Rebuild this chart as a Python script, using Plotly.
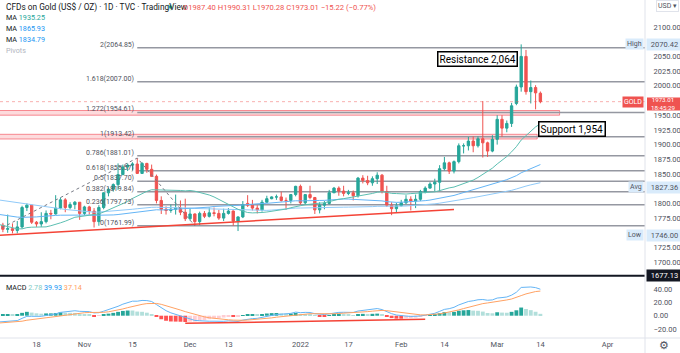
import pandas as pd
import plotly.graph_objects as go

# ---------------- data ----------------
dates = [
    "2021-10-06", "2021-10-07", "2021-10-08",
    "2021-10-11", "2021-10-12", "2021-10-13", "2021-10-14", "2021-10-15",
    "2021-10-18", "2021-10-19", "2021-10-20", "2021-10-21", "2021-10-22",
    "2021-10-25", "2021-10-26", "2021-10-27", "2021-10-28", "2021-10-29",
    "2021-11-01", "2021-11-02", "2021-11-03", "2021-11-04", "2021-11-05",
    "2021-11-08", "2021-11-09", "2021-11-10", "2021-11-11", "2021-11-12",
    "2021-11-15", "2021-11-16", "2021-11-17", "2021-11-18", "2021-11-19",
    "2021-11-22", "2021-11-23", "2021-11-24", "2021-11-25", "2021-11-26",
    "2021-11-29", "2021-11-30",
    "2021-12-01", "2021-12-02", "2021-12-03",
    "2021-12-06", "2021-12-07", "2021-12-08", "2021-12-09", "2021-12-10",
    "2021-12-13", "2021-12-14", "2021-12-15", "2021-12-16", "2021-12-17",
    "2021-12-20", "2021-12-21", "2021-12-22", "2021-12-23", "2021-12-24",
    "2021-12-27", "2021-12-28", "2021-12-29", "2021-12-30", "2021-12-31",
    "2022-01-03", "2022-01-04", "2022-01-05", "2022-01-06", "2022-01-07",
    "2022-01-10", "2022-01-11", "2022-01-12", "2022-01-13", "2022-01-14",
    "2022-01-17", "2022-01-18", "2022-01-19", "2022-01-20", "2022-01-21",
    "2022-01-24", "2022-01-25", "2022-01-26", "2022-01-27", "2022-01-28",
    "2022-01-31",
    "2022-02-01", "2022-02-02", "2022-02-03", "2022-02-04",
    "2022-02-07", "2022-02-08", "2022-02-09", "2022-02-10", "2022-02-11",
    "2022-02-14", "2022-02-15", "2022-02-16", "2022-02-17", "2022-02-18",
    "2022-02-21", "2022-02-22", "2022-02-23", "2022-02-24", "2022-02-25",
    "2022-02-28",
    "2022-03-01", "2022-03-02", "2022-03-03", "2022-03-04",
    "2022-03-07", "2022-03-08", "2022-03-09", "2022-03-10", "2022-03-11",
    "2022-03-14",
]

opens = [
    1760, 1763, 1756, 1757, 1754, 1760, 1793, 1797, 1768, 1765, 1769, 1783, 1782,
    1792, 1806, 1793, 1798, 1802,
    1783, 1794, 1787, 1769, 1793, 1818, 1824, 1832, 1849, 1862, 1865, 1867, 1851,
    1868, 1858, 1846, 1805, 1790, 1788, 1790, 1792, 1785,
    1774, 1782, 1769, 1783, 1778, 1784, 1783, 1775, 1783, 1787, 1770, 1777, 1800,
    1797, 1792, 1789, 1802, 1808, 1811, 1811, 1805, 1805, 1815,
    1829, 1801, 1815, 1810, 1789, 1797, 1800, 1818, 1826, 1821, 1817, 1818, 1813,
    1843, 1839, 1835, 1842, 1848, 1820, 1797, 1791,
    1796, 1801, 1807, 1804, 1807, 1820, 1826, 1833, 1836, 1859, 1869, 1855, 1871,
    1898, 1898, 1906, 1898, 1910, 1903, 1889,
    1909, 1943, 1928, 1936, 1970, 1998, 2050, 1990, 1997, 1987.40,
]
highs = [
    1765, 1767, 1781, 1766, 1770, 1796, 1800, 1797, 1770, 1785, 1788, 1789, 1814,
    1810, 1809, 1802, 1804, 1802,
    1796, 1796, 1792, 1797, 1819, 1827, 1834, 1868, 1866, 1868, 1870, 1877.2, 1870,
    1869, 1866, 1849, 1812, 1795, 1798, 1815, 1805, 1808,
    1792, 1783, 1786, 1787, 1793, 1793, 1789, 1791, 1792, 1788, 1778, 1804, 1814,
    1806, 1797, 1806, 1813, 1812, 1815, 1820, 1810, 1816, 1830,
    1832, 1815, 1830, 1811, 1802, 1804, 1823, 1828, 1829, 1830, 1823, 1822, 1845,
    1848, 1847, 1846, 1853, 1850, 1830, 1802, 1801,
    1806, 1814, 1812, 1815, 1823, 1829, 1836, 1842, 1865, 1879, 1871, 1873, 1902,
    1902, 1913, 1914, 1914, 1974, 1905, 1916,
    1950, 1950, 1941, 1971, 2002, 2070.42, 2061, 2009, 2001, 1990.31,
]
lows = [
    1746, 1751, 1750, 1749, 1749, 1757, 1787, 1765, 1760, 1760, 1766, 1773, 1781,
    1790, 1785, 1790, 1790, 1772,
    1780, 1781, 1759, 1762, 1790, 1812, 1820, 1823, 1848, 1855, 1856, 1850, 1850,
    1852, 1845, 1800, 1782, 1781, 1784, 1781, 1780, 1770,
    1771, 1761.99, 1763, 1775, 1776, 1778, 1772, 1770, 1781, 1762, 1753, 1775, 1794,
    1788, 1783, 1786, 1801, 1807, 1806, 1803, 1789, 1800, 1812,
    1798, 1798, 1807, 1782, 1783, 1790, 1798, 1818, 1813, 1812, 1814, 1805, 1810,
    1834, 1831, 1830, 1833, 1817, 1794, 1780, 1785,
    1795, 1799, 1788, 1792, 1804, 1817, 1825, 1821, 1821, 1856, 1850, 1851, 1868,
    1885, 1890, 1887, 1895, 1878, 1879, 1887,
    1900, 1913, 1921, 1930, 1967, 1990, 1985, 1970, 1960, 1970.28,
]
closes = [
    1763, 1756, 1757, 1754, 1760, 1793, 1797, 1768, 1765, 1769, 1783, 1782, 1792,
    1806, 1793, 1798, 1802, 1783,
    1794, 1787, 1769, 1793, 1818, 1824, 1832, 1849, 1862, 1865, 1867, 1851, 1868,
    1858, 1846, 1805, 1790, 1788, 1790, 1792, 1785, 1774,
    1782, 1769, 1783, 1778, 1784, 1783, 1775, 1783, 1787, 1770, 1777, 1798, 1797,
    1792, 1789, 1802, 1808, 1811, 1811, 1805, 1805, 1815, 1829,
    1801, 1815, 1810, 1789, 1797, 1800, 1818, 1826, 1821, 1817, 1818, 1813, 1843,
    1839, 1835, 1842, 1848, 1820, 1797, 1791, 1796,
    1801, 1807, 1804, 1807, 1820, 1826, 1833, 1836, 1859, 1869, 1855, 1871, 1898,
    1898, 1906, 1898, 1910, 1903, 1889, 1909,
    1943, 1928, 1936, 1966, 1998, 2050, 1990, 1997, 1988, 1973.01,
]

# daily closes before the visible window (May 17 - Oct 5, 2021), used to seed MAs / MACD
prior_closes = [
    1867, 1869, 1881, 1876, 1881, 1881, 1899, 1896, 1896, 1903,
    1905, 1903, 1908, 1871, 1891, 1899, 1893, 1888, 1898, 1877,
    1866, 1858, 1813, 1774, 1764, 1782, 1779, 1778, 1776, 1781,
    1779, 1761, 1770, 1777, 1787, 1792, 1796, 1803, 1803, 1808,
    1806, 1808, 1824, 1829, 1812, 1812, 1810, 1804, 1806, 1802,
    1797, 1799, 1807, 1829, 1814, 1813, 1810, 1813, 1804, 1763,
    1729, 1732, 1734, 1753, 1779, 1787, 1786, 1787, 1782, 1781,
    1805, 1804, 1790, 1793, 1818, 1810, 1814, 1815, 1810, 1827,
    1823, 1794, 1788, 1795, 1788, 1793, 1804, 1794, 1754, 1754,
    1764, 1774, 1768, 1743, 1750, 1750, 1737, 1725, 1742, 1761,
    1769, 1760,
]

fib_ratios = ["0", "0.236", "0.382", "0.5", "0.618", "0.786", "1", "1.272", "1.618", "2"]
fib_prices = [1761.99, 1797.73, 1819.84, 1837.70, 1855.57, 1881.01, 1913.42, 1954.61, 2007.00, 2064.85]
fib_swing_dates = ["2021-09-29", "2021-11-16", "2021-12-02"]
fib_swing_prices = [1725.8, 1877.2, 1761.99]

trend_dates = ["2021-10-06", "2022-02-16"]
trend_prices = [1745.8, 1789.5]
macd_trend_dates = ["2021-11-30", "2022-02-08"]
macd_trend_vals = [-11.4, -5.4]

price_ticks = [2100, 2050, 2025, 2000, 1950, 1925, 1900, 1875, 1850, 1800, 1775, 1725, 1700]
macd_ticks = [40, 20, 0, -20]
x_tick_dates = ["2021-10-18", "2021-11-01", "2021-11-15", "2021-12-01", "2021-12-13", "2022-01-03",
                "2022-01-17", "2022-02-01", "2022-02-14", "2022-03-01", "2022-03-14", "2022-04-01"]
x_tick_text = ["18", "Nov", "15", "Dec", "13", "2022", "17", "Feb", "14", "Mar", "14", "Apr"]

last_price = 1973.01
high_price, avg_price, low_price, hline_price = 2070.42, 1827.36, 1746.00, 1677.13

# ---------------- indicators ----------------
n_prior = len(prior_closes)
s = pd.Series(prior_closes + closes, dtype=float)
ma20 = s.rolling(20).mean().iloc[n_prior:].tolist()
ma50 = s.rolling(50).mean().iloc[n_prior:].tolist()
ma100 = s.rolling(100).mean().iloc[n_prior:].tolist()
ema12 = s.ewm(span=12, adjust=False).mean()
ema26 = s.ewm(span=26, adjust=False).mean()
macd_all = ema12 - ema26
sig_all = macd_all.ewm(span=9, adjust=False).mean()
hist_all = macd_all - sig_all
macd = macd_all.iloc[n_prior:].tolist()
sig = sig_all.iloc[n_prior:].tolist()
hist = hist_all.iloc[n_prior:].tolist()
prev = hist_all.iloc[n_prior - 1:-1].tolist()
hist_colors = []
for h, p in zip(hist, prev):
    if h >= 0:
        hist_colors.append("#26a69a" if h > p else "#b2dfdb")
    else:
        hist_colors.append("#ffcdd2" if h > p else "#ff5252")

# ---------------- geometry ----------------
W, H = 680, 353
PR, PB = 645, 338  # plot right / bottom in px
Y_TOP, Y_BOT = 2145.92, 1673.13   # price pane range (px 0 .. 278)


def fx(px):
    return px / PR


def fy(py):
    return (PB - py) / PB


def price_at(py):
    return Y_TOP - py * (Y_TOP - Y_BOT) / 278.0


X_RANGE = ["2021-10-06 09:36:00", "2022-04-12 19:12:00"]
FONT = "Roboto, Liberation Sans, sans-serif"
UP, DN = "#26a69a", "#ef5350"

fig = go.Figure()

fig.add_trace(go.Candlestick(
    x=dates, open=opens, high=highs, low=lows, close=closes,
    increasing=dict(line=dict(color=UP, width=1), fillcolor=UP),
    decreasing=dict(line=dict(color=DN, width=1), fillcolor=DN),
    whiskerwidth=0, xaxis="x", yaxis="y", hoverinfo="skip", name="GOLD"))

fig.add_trace(go.Scatter(x=dates, y=ma100, mode="lines", line=dict(color="#90caf9", width=1),
                         xaxis="x", yaxis="y", hoverinfo="skip"))
fig.add_trace(go.Scatter(x=dates, y=ma50, mode="lines", line=dict(color="#64b5f6", width=1),
                         xaxis="x", yaxis="y", hoverinfo="skip"))
fig.add_trace(go.Scatter(x=dates, y=ma20, mode="lines", line=dict(color="#5cbfb2", width=1),
                         xaxis="x", yaxis="y", hoverinfo="skip"))

fig.add_trace(go.Scatter(x=fib_swing_dates, y=fib_swing_prices, mode="lines",
                         line=dict(color="#787b86", width=1, dash="3px,3px"),
                         xaxis="x", yaxis="y", hoverinfo="skip"))
fig.add_trace(go.Scatter(x=trend_dates, y=trend_prices, mode="lines",
                         line=dict(color="#f44336", width=1.5),
                         xaxis="x", yaxis="y", hoverinfo="skip"))

fig.add_trace(go.Bar(x=dates, y=hist, marker=dict(color=hist_colors, line=dict(width=0)),
                     xaxis="x2", yaxis="y2", hoverinfo="skip"))
fig.add_trace(go.Scatter(x=dates, y=macd, mode="lines", line=dict(color="#64b5f6", width=1),
                         xaxis="x2", yaxis="y2", hoverinfo="skip"))
fig.add_trace(go.Scatter(x=dates, y=sig, mode="lines", line=dict(color="#ffa264", width=1),
                         xaxis="x2", yaxis="y2", hoverinfo="skip"))
fig.add_trace(go.Scatter(x=macd_trend_dates, y=macd_trend_vals, mode="lines",
                         line=dict(color="#f44336", width=1.5),
                         xaxis="x2", yaxis="y2", hoverinfo="skip"))

shapes = []
# pink zones
shapes.append(dict(type="rect", xref="x", yref="y", x0="2021-10-01", x1="2022-03-18",
                   y0=1950, y1=1958, fillcolor="rgba(242,54,69,0.18)",
                   line=dict(color="rgba(242,54,69,0.55)", width=1), layer="below"))
shapes.append(dict(type="rect", xref="x", yref="y", x0="2021-10-01", x1="2022-03-11 08:00:00",
                   y0=1909.5, y1=1917.5, fillcolor="rgba(242,54,69,0.18)",
                   line=dict(color="rgba(242,54,69,0.55)", width=1), layer="below"))
# fib levels
for p in fib_prices:
    shapes.append(dict(type="line", xref="x", yref="y", x0=fib_swing_dates[1], x1=X_RANGE[1],
                       y0=p, y1=p, line=dict(color="#9598a1", width=1.5), layer="below"))
# last price dotted line
shapes.append(dict(type="line", xref="paper", yref="y", x0=0, x1=1, y0=last_price, y1=last_price,
                   line=dict(color="rgba(239,83,80,0.45)", width=1, dash="dot")))
# black horizontal line
shapes.append(dict(type="line", xref="paper", yref="y", x0=0, x1=1, y0=hline_price, y1=hline_price,
                   line=dict(color="#131722", width=2)))
# borders
shapes.append(dict(type="line", xref="paper", yref="paper", x0=1, x1=1, y0=-0.05, y1=1,
                   line=dict(color="#e0e3eb", width=1)))
shapes.append(dict(type="line", xref="paper", yref="paper", x0=0, x1=W / PR, y0=0, y1=0,
                   line=dict(color="#e0e3eb", width=1)))
# last price tag background on the scale
shapes.append(dict(type="rect", xref="paper", yref="y", x0=fx(PR + 2), x1=fx(W),
                   y0=price_at(110.5), y1=price_at(97.5), fillcolor="#ef5350", line=dict(width=0)))
# live dot
shapes.append(dict(type="circle", xref="paper", yref="paper",
                   x0=fx(167), x1=fx(174), y0=fy(10.5), y1=fy(3.5),
                   fillcolor="#d7f0ec", line=dict(width=0)))
shapes.append(dict(type="circle", xref="paper", yref="paper",
                   x0=fx(168.8), x1=fx(172.2), y0=fy(8.7), y1=fy(5.3),
                   fillcolor="#26a69a", line=dict(width=0)))

ann = []


def text(px, py, t, size=8, color="#131722", xanchor="left", **kw):
    ann.append(dict(x=fx(px), y=fy(py), xref="paper", yref="paper", text=t, showarrow=False,
                    xanchor=xanchor, yanchor="middle", font=dict(family=FONT, size=size, color=color), **kw))


text(4, 7.5, "CFDs on Gold (US$ / OZ) · 1D · TVC · TradingView", size=8.3, color="#131722")
text(181, 7.5, "O1987.40 H1990.31 L1970.28 C1973.01 −15.22 (−0.77%)", size=7.6, color="#ef5350")
text(4, 17.5, "MA <span style='color:#26a69a'>1935.25</span>", size=7.2, color="#131722")
text(4, 28.5, "MA <span style='color:#2196f3'>1865.93</span>", size=7.2, color="#131722")
text(4, 39.5, "MA <span style='color:#2196f3'>1834.79</span>", size=7.2, color="#131722")
text(4, 50.5, "Pivots", size=7.2, color="#b2b5be")
text(4, 287.5, "MACD <span style='color:#80cbc4'>2.78</span> <span style='color:#2196f3'>39.93</span> "
     "<span style='color:#ff9e5e'>37.14</span>", size=7.2, color="#131722")

# fib labels
for r, p in zip(fib_ratios, fib_prices):
    ann.append(dict(x=fib_swing_dates[1], y=p, xref="x", yref="y", text=f"{r}({p:.2f})",
                    showarrow=False, xanchor="right", yanchor="middle", yshift=3, xshift=-1,
                    font=dict(family=FONT, size=7, color="#50535e")))

# callout boxes
text(477, 58.5, "Resistance 2,064", size=10, color="#000000", xanchor="center",
     bgcolor="#ffffff", bordercolor="#000000", borderwidth=1.5, borderpad=1)
text(572, 128.5, "Support 1,954", size=10, color="#000000", xanchor="center",
     bgcolor="#ffffff", bordercolor="#000000", borderwidth=1.5, borderpad=1)


def tag(price, label, bg, fg, name=None, name_bg=None, name_fg=None, yref="y"):
    ann.append(dict(x=1, y=price, xref="paper", yref=yref, text=label, showarrow=False,
                    xanchor="left", yanchor="middle", xshift=1, width=33, align="center",
                    bgcolor=bg, font=dict(family=FONT, size=7.5, color=fg), borderpad=1))
    if name:
        ann.append(dict(x=1, y=price, xref="paper", yref=yref, text=name, showarrow=False,
                        xanchor="right", yanchor="middle", xshift=-1, align="center",
                        bgcolor=name_bg, font=dict(family=FONT, size=7, color=name_fg), borderpad=1))


tag(high_price, "2070.42", "#d9ebfb", "#50535e", "High", "#d9ebfb", "#50535e")
tag(avg_price, "1827.36", "#d9ebfb", "#50535e", "Avg", "#d9ebfb", "#50535e")
tag(low_price, "1746.00", "#d9ebfb", "#50535e", "Low", "#d9ebfb", "#50535e")
tag(hline_price, "1677.13", "#131722", "#ffffff")
text(663, 104, "1973.01<br>18:45:29", size=6.2, color="#ffffff", xanchor="center", borderpad=0)
ann.append(dict(x=1, y=last_price, xref="paper", yref="y", text="GOLD", showarrow=False,
                xanchor="right", yanchor="middle", xshift=-1, bgcolor="#ef5350",
                font=dict(family=FONT, size=7, color="#ffffff"), borderpad=1))
# USD box and gear
text(667, 5.5, "USD ▾", size=7, color="#50535e", xanchor="center",
     bgcolor="#ffffff", bordercolor="#e0e3eb", borderwidth=1, borderpad=1)
text(664, 345, "⚙", size=11, color="#50535e", xanchor="center")

fig.update_layout(
    width=W, height=H, margin=dict(l=0, r=W - PR, t=0, b=H - PB),
    paper_bgcolor="#ffffff", plot_bgcolor="#ffffff",
    showlegend=False, hovermode=False, bargap=0.2,
    font=dict(family=FONT, size=8, color="#50535e"),
    xaxis=dict(domain=[0, 1], anchor="y", type="date", range=X_RANGE,
               rangebreaks=[dict(bounds=["sat", "mon"])], showticklabels=False,
               showgrid=False, zeroline=False, rangeslider=dict(visible=False)),
    xaxis2=dict(domain=[0, 1], anchor="y2", type="date", matches="x", range=X_RANGE,
                rangebreaks=[dict(bounds=["sat", "mon"])], showgrid=False, zeroline=False,
                tickmode="array", tickvals=x_tick_dates, ticktext=x_tick_text,
                ticks="", tickfont=dict(family=FONT, size=7.5, color="#50535e")),
    yaxis=dict(domain=[fy(278), 1], anchor="x", side="right", range=[Y_BOT, Y_TOP],
               showgrid=False, zeroline=False, tickmode="array", tickvals=price_ticks,
               tickformat=".2f", ticks="outside", ticklen=6, tickcolor="rgba(0,0,0,0)",
               tickfont=dict(family=FONT, size=7.5, color="#50535e")),
    yaxis2=dict(domain=[0, fy(279)], anchor="x2", side="right", range=[-33.41, 54.98],
                showgrid=False, zeroline=False, tickmode="array", tickvals=macd_ticks,
                tickformat=".2f", ticks="outside", ticklen=6, tickcolor="rgba(0,0,0,0)",
                tickfont=dict(family=FONT, size=7.5, color="#50535e")),
    shapes=shapes, annotations=ann,
)

fig.write_html("out.html", config={"displayModeBar": False})
